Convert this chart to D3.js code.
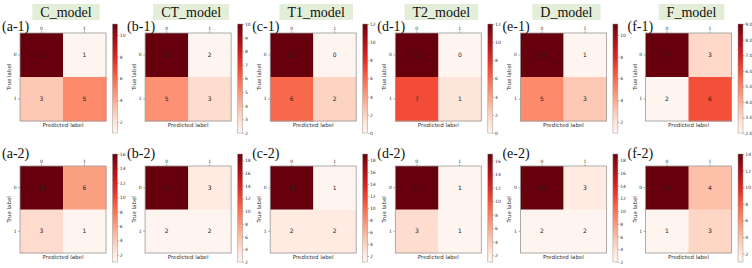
<!DOCTYPE html>
<html>
<head>
  <style>
    body { margin: 0; background: #fff; }
    .tick text { font: 4.5px "DejaVu Sans", sans-serif; fill: #333; }
    .cell-text { font: 6px "DejaVu Sans", sans-serif; fill: #222; text-anchor: middle; }
    .axis-title { font: 5.5px "DejaVu Sans", sans-serif; fill: #333; text-anchor: middle; }
    .title { font: 14px "Liberation Serif", serif; fill: #111; text-anchor: middle; }
    .tag { font: 14px "Liberation Serif", serif; fill: #111; }
  </style>
  <script src="https://d3js.org/d3.v7.min.js"></script>
</head>
<body>
  <svg width="752" height="268"></svg>
  <script>
    var models = ["C_model", "CT_model", "T1_model", "T2_model", "D_model", "F_model"];
    var tagsTop = ["(a-1)", "(b-1)", "(c-1)", "(d-1)", "(e-1)", "(f-1)"];
    var tagsBottom = ["(a-2)", "(b-2)", "(c-2)", "(d-2)", "(e-2)", "(f-2)"];
    var classes = ["0", "1"];

    // confusion matrices, row-major [TN, FP, FN, TP]
    var cmTop = [[11, 1, 3, 5], [10, 2, 5, 3], [12, 0, 6, 2], [12, 0, 7, 1], [11, 1, 5, 3], [9, 3, 2, 6]];
    var cmBottom = [[16, 6, 3, 1], [19, 3, 2, 2], [19, 1, 2, 2], [17, 1, 3, 1], [19, 3, 2, 2], [14, 4, 1, 3]];

    var ticksTop = [
      [2, 4, 6, 8, 10], [2, 3, 4, 5, 6, 7, 8, 9, 10], [0, 2, 4, 6, 8, 10, 12],
      [0, 2, 4, 6, 8, 10, 12], [2, 4, 6, 8, 10], [2, 3, 4, 5, 6, 7, 8, 9]
    ];
    var ticksBottom = [
      [2, 4, 6, 8, 10, 12, 14, 16], [2, 4, 6, 8, 10, 12, 14, 16, 18], [2, 4, 6, 8, 10, 12, 14, 16, 18],
      [2, 4, 6, 8, 10, 12, 14, 16], [2, 4, 6, 8, 10, 12, 14, 16, 18], [2, 4, 6, 8, 10, 12, 14]
    ];

    var svg = d3.select("svg");
    var step = 125.1;
    var defs = svg.append("defs");
    var grad = defs.append("linearGradient").attr("id", "reds")
      .attr("x1", 0).attr("y1", 1).attr("x2", 0).attr("y2", 0);
    d3.range(0, 1.0001, 0.1).forEach(function (t) {
      grad.append("stop").attr("offset", t).attr("stop-color", d3.interpolateReds(t));
    });

    function panel(i, values, ticks, tag, row) {
      var x0 = i * step;
      var lay = row === 0
        ? { top: 33, h: 88, cbTop: 24, cbBot: 133, tagY: 31 }
        : { top: 166, h: 87, cbTop: 154, cbBot: 262, tagY: 158 };
      var g = svg.append("g").attr("transform", "translate(" + x0 + ",0)");
      var mx = 20, mw = 86;

      var x = d3.scaleBand().domain(classes).range([mx, mx + mw]);
      var y = d3.scaleBand().domain(classes).range([lay.top, lay.top + lay.h]);
      var vmin = d3.min(values), vmax = d3.max(values);
      var color = d3.scaleSequential(d3.interpolateReds).domain([vmin, vmax]);

      var cells = [];
      classes.forEach(function (r, ri) {
        classes.forEach(function (c, ci) {
          cells.push({ r: r, c: c, v: values[ri * 2 + ci] });
        });
      });

      g.selectAll("rect.cell").data(cells).enter().append("rect")
        .attr("class", "cell")
        .attr("x", function (d) { return x(d.c); })
        .attr("y", function (d) { return y(d.r); })
        .attr("width", x.bandwidth() + 0.5)
        .attr("height", y.bandwidth() + 0.5)
        .attr("fill", function (d) { return color(d.v); });

      g.selectAll("text.cell-text").data(cells).enter().append("text")
        .attr("class", "cell-text")
        .attr("x", function (d) { return x(d.c) + x.bandwidth() / 2; })
        .attr("y", function (d) { return y(d.r) + y.bandwidth() / 2 + 2; })
        .text(function (d) { return d.v; });

      g.append("rect").attr("x", mx).attr("y", lay.top).attr("width", mw).attr("height", lay.h)
        .attr("fill", "none").attr("stroke", "#999").attr("stroke-width", 0.8);

      var ax = g.append("g").attr("transform", "translate(0," + lay.top + ")")
        .call(d3.axisTop(x).tickSize(2).tickPadding(1.5));
      var ay = g.append("g").attr("transform", "translate(" + mx + ",0)")
        .call(d3.axisLeft(y).tickSize(2).tickPadding(1.5));
      [ax, ay].forEach(function (a) {
        a.select(".domain").remove();
        a.selectAll("line").attr("stroke", "#666").attr("stroke-width", 0.5);
      });

      g.append("text").attr("class", "axis-title")
        .attr("x", mx + mw / 2).attr("y", lay.top + lay.h + 6)
        .text("Predicted label");
      g.append("text").attr("class", "axis-title")
        .attr("transform", "translate(" + (mx - 9) + "," + (lay.top + lay.h / 2) + ") rotate(-90)")
        .text("True label");

      // colorbar
      var cbx = 112.5, cbw = 5;
      g.append("rect").attr("x", cbx).attr("y", lay.cbTop)
        .attr("width", cbw).attr("height", lay.cbBot - lay.cbTop)
        .attr("fill", "url(#reds)").attr("stroke", "#999").attr("stroke-width", 0.5);
      var cs = d3.scaleLinear().domain([vmin, vmax]).range([lay.cbBot, lay.cbTop]);
      var cb = g.append("g").attr("transform", "translate(" + (cbx + cbw) + ",0)")
        .call(d3.axisRight(cs).tickValues(ticks).tickSize(1.5).tickPadding(0.8));
      cb.select(".domain").remove();
      cb.selectAll("line").attr("stroke", "#666").attr("stroke-width", 0.5);

      g.append("text").attr("class", "tag").attr("x", 2).attr("y", lay.tagY).text(tag);
    }

    models.forEach(function (m, i) {
      var cx = i * step + 66;
      var t = svg.append("text").attr("class", "title").attr("x", cx).attr("y", 17).text(m);
      var tw = t.node().getComputedTextLength() + 16;
      svg.insert("rect", "text.title").attr("x", cx - tw / 2).attr("y", 4).attr("width", tw).attr("height", 16)
        .attr("fill", "#e3eed9");
      panel(i, cmTop[i], ticksTop[i], tagsTop[i], 0);
      panel(i, cmBottom[i], ticksBottom[i], tagsBottom[i], 1);
    });
  </script>
</body>
</html>
